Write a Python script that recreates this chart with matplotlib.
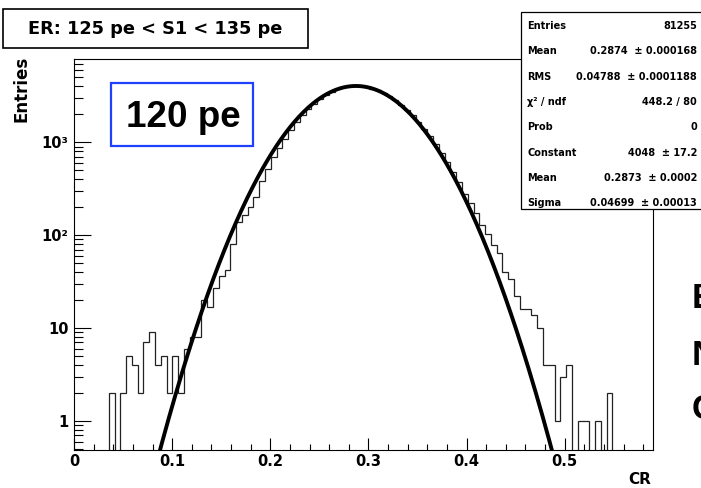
import numpy as np
import matplotlib.pyplot as plt
from matplotlib.patches import Rectangle
from matplotlib.ticker import FixedLocator, LogLocator, MultipleLocator, NullFormatter

# CR histogram, 100 bins between 0 and 0.59
x_lo, x_hi, n_bins = 0.0, 0.59, 100
counts = [0, 0, 0, 0, 0, 0, 2, 0, 2, 5,
          4, 2, 7, 9, 4, 5, 2, 5, 2, 6,
          8, 8, 20, 17, 27, 36, 42, 81, 140, 164,
          200, 258, 380, 520, 690, 880, 1100, 1370, 1650, 1960,
          2270, 2600, 2920, 3220, 3490, 3720, 3905, 4010, 4060, 4040,
          3950, 3800, 3620, 3390, 3130, 2850, 2550, 2250, 1950, 1670,
          1410, 1170, 960, 775, 615, 480, 370, 280, 225, 174,
          128, 104, 78, 64, 40, 34, 22, 16, 16, 14,
          10, 4, 4, 1, 3, 4, 0, 1, 1, 0,
          1, 0, 2, 0, 0, 0, 0, 0, 0, 0]

# gaussian fit (values from the stats box)
fit_const, fit_mean, fit_sigma = 4048, 0.2873, 0.04699

stat_names = ['Entries', 'Mean', 'RMS', 'χ² / ndf', 'Prob', 'Constant', 'Mean', 'Sigma']
stat_values = ['81255', '0.2874  ± 0.000168', '0.04788  ± 0.0001188', '448.2 / 80',
               '0', '4048  ± 17.2', '0.2873  ± 0.0002', '0.04699  ± 0.00013']

x_ticks = [0, 0.1, 0.2, 0.3, 0.4, 0.5]
x_ticklabels = ['0', '0.1', '0.2', '0.3', '0.4', '0.5']
y_ticks = [1, 10, 100, 1000]
y_ticklabels = ['1', '10', '10²', '10³']

W, H = 701, 488
fig = plt.figure(figsize=(W / 100, H / 100), dpi=100)
fig.patch.set_facecolor('white')


def fx(px):
    return px / W


def fy(py):
    return (H - py) / H


ax = fig.add_axes([fx(74), fy(450), fx(653) - fx(74), fy(59) - fy(450)])
ax.set_yscale('log')
ax.set_xlim(x_lo, x_hi)
ax.set_ylim(0.487, 7900)

edges = np.linspace(x_lo, x_hi, n_bins + 1)
c = np.array(counts, dtype=float)
floor = 1e-3
ax.stairs(np.where(c > 0, c, floor), edges, baseline=floor, color='#222222', lw=0.9)

xf = np.linspace(0.06, 0.52, 400)
yf = fit_const * np.exp(-0.5 * ((xf - fit_mean) / fit_sigma) ** 2)
ax.plot(xf, yf, color='black', lw=2.8)

for s in ax.spines.values():
    s.set_linewidth(0.8)
    s.set_color('black')

ax.xaxis.set_major_locator(FixedLocator(x_ticks))
ax.set_xticklabels(x_ticklabels)
ax.xaxis.set_minor_locator(MultipleLocator(0.02))
ax.yaxis.set_major_locator(FixedLocator(y_ticks))
ax.set_yticklabels(y_ticklabels)
ax.yaxis.set_minor_locator(LogLocator(base=10, subs=np.arange(2, 10)))
ax.yaxis.set_minor_formatter(NullFormatter())

ax.tick_params(axis='x', which='major', direction='in', length=8.6, width=0.8,
               labelsize=10.5, pad=3, top=False)
ax.tick_params(axis='x', which='minor', direction='in', length=4.3, width=0.8, top=False)
ax.tick_params(axis='y', which='major', direction='in', length=12.2, width=0.8,
               labelsize=10.5, pad=4, right=False)
ax.tick_params(axis='y', which='minor', direction='in', length=6.5, width=0.8, right=False)
for lab in ax.get_xticklabels() + ax.get_yticklabels():
    lab.set_fontweight('bold')

# axis titles
fig.text(fx(21), fy(56), 'Entries', rotation=90, ha='center', va='top',
         fontsize=12, fontweight='bold')
fig.text(fx(651), fy(487), 'CR', ha='right', va='bottom', fontsize=11, fontweight='bold')

# title box
fig.patches.append(Rectangle((fx(3), fy(47.5)), fx(308) - fx(3), fy(9.5) - fy(47.5),
                             transform=fig.transFigure, fill=True, facecolor='white',
                             edgecolor='black', lw=1.2))
fig.text(fx(155.5), fy(28.5), 'ER: 125 pe < S1 < 135 pe', ha='center', va='center',
         fontsize=12.8, fontweight='bold')

# blue label box
fig.patches.append(Rectangle((fx(110.7), fy(146)), fx(253.3) - fx(110.7), fy(82.7) - fy(146),
                             transform=fig.transFigure, fill=False,
                             edgecolor='#1f40ff', lw=1.6, zorder=5))
fig.text(fx(183), fy(127.3), '120 pe', ha='center', va='baseline', fontsize=26.5,
         fontweight='bold', family='Liberation Sans', zorder=6)

# stats box
fig.patches.append(Rectangle((fx(521), fy(209)), fx(705) - fx(521), fy(12.3) - fy(209),
                             transform=fig.transFigure, facecolor='white',
                             edgecolor='black', lw=0.9, zorder=5))
for i, (name, val) in enumerate(zip(stat_names, stat_values)):
    yy = fy(26 + i * 25.33)
    fig.text(fx(527), yy, name, ha='left', va='center', fontsize=7,
             fontweight='bold', zorder=6)
    fig.text(fx(697), yy, val, ha='right', va='center', fontsize=7,
             fontweight='bold', zorder=6)

# letters from the slide behind, cut at the right edge
for letter, base in zip(['E', 'N', 'C'], [308, 365, 419]):
    fig.text(fx(692), fy(base), letter, ha='left', va='baseline', fontsize=25,
             fontweight='bold', family='Liberation Sans')

fig.savefig('out.png', dpi=100)
